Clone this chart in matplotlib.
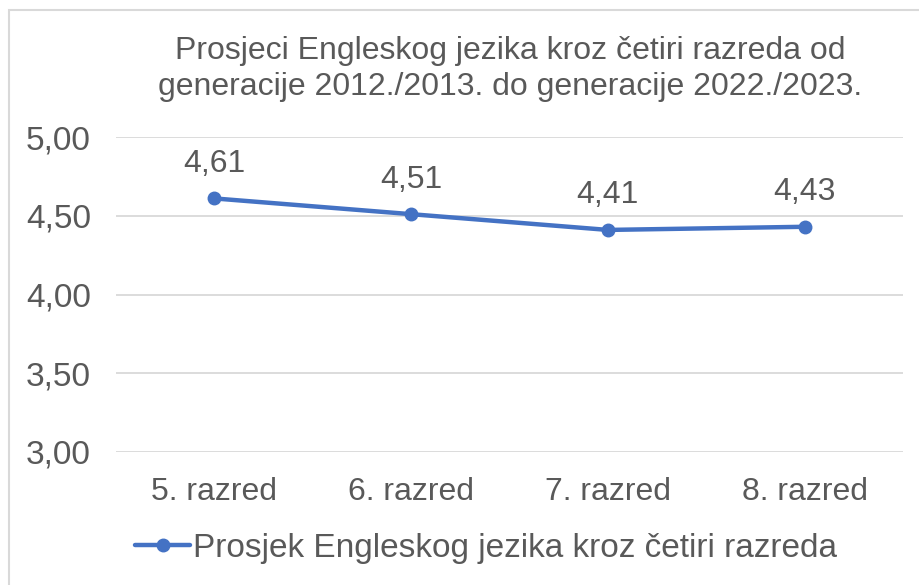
import matplotlib
matplotlib.use("Agg")
import matplotlib.pyplot as plt
from matplotlib.patches import Rectangle

categories = ["5. razred", "6. razred", "7. razred", "8. razred"]
values = [4.61, 4.51, 4.41, 4.43]
value_labels = ["4,61", "4,51", "4,41", "4,43"]
yticks = [3.0, 3.5, 4.0, 4.5, 5.0]
ytick_labels = ["3,00", "3,50", "4,00", "4,50", "5,00"]
series_name = "Prosjek Engleskog jezika kroz četiri razreda"
title = "Prosjeci Engleskog jezika kroz četiri razreda od\ngeneracije 2012./2013. do generacije 2022./2023."

plt.rcParams['font.family'] = ['Liberation Sans', 'DejaVu Sans']
W, H = 919, 585
fig = plt.figure(figsize=(W/100, H/100), dpi=100)
fig.patches.append(Rectangle((9/W, -0.1), 1.0, 1.1 - 10/H, transform=fig.transFigure,
                             fill=False, edgecolor='#D9D9D9', linewidth=1.5))

text_col = '#595959'
ax = fig.add_axes([116/W, 1 - 452/H, (903-116)/W, (452-137)/H])
x = range(len(categories))
ax.plot(x, values, color='#4472C4', linewidth=3.2, marker='o', markersize=9,
        label=series_name, solid_capstyle='round')
ax.set_xlim(-0.5, len(categories) - 0.5)
ax.set_ylim(3.0, 5.0)
ax.set_yticks(yticks)
ax.set_yticklabels(ytick_labels)
ax.set_xticks(list(x))
ax.set_xticklabels(categories)
ax.tick_params(axis='both', length=0, labelsize=23, colors=text_col)
ax.tick_params(axis='y', pad=18, labelsize=24)
ax.tick_params(axis='x', pad=18)
ax.grid(axis='y', color='#D9D9D9', linewidth=1.3)
ax.set_axisbelow(True)
for s in ax.spines.values():
    s.set_visible(False)
for xi, v, lab in zip(x, values, value_labels):
    ax.annotate(lab, (xi, v), xytext=(0, 14), textcoords='offset points',
                ha='center', va='bottom', fontsize=23, color=text_col)

fig.text(510/W, 1 - 69/H, title, ha='center', va='center', fontsize=23,
         color=text_col, linespacing=1.22)

leg = fig.legend(loc='center', bbox_to_anchor=(486/W, 1 - 548/H), frameon=False,
                 fontsize=24, handlelength=1.65, handletextpad=0.08)
for t in leg.get_texts():
    t.set_color(text_col)

fig.savefig("out.png", dpi=100)
